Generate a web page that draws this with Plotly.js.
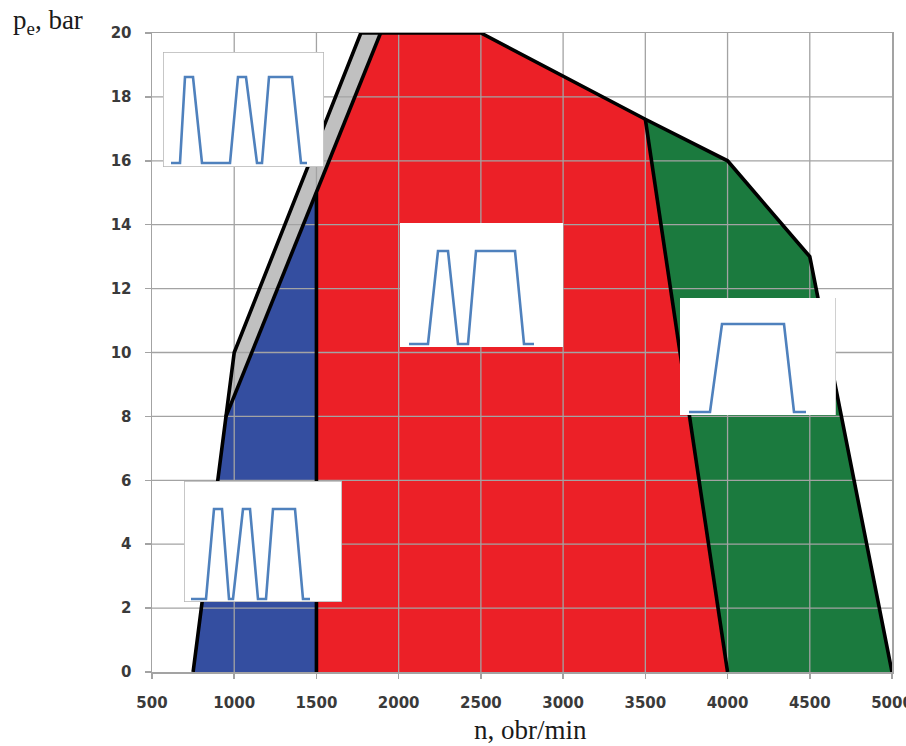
<!DOCTYPE html>
<html>
<head>
<meta charset="utf-8">
<script src="https://cdn.plot.ly/plotly-3.0.1.min.js"></script>
<style>html,body{margin:0;padding:0;background:#fff}#chart{width:906px;height:746px}</style>
</head>
<body>
<div id="chart"></div>
<script>
// ---- axis ticks ----
const xTicks = [500, 1000, 1500, 2000, 2500, 3000, 3500, 4000, 4500, 5000];
const yTicks = [0, 2, 4, 6, 8, 10, 12, 14, 16, 18, 20];

// ---- region polygons (n [obr/min], pe [bar]) ----
const blueN  = [750, 950, 1500, 1500];
const blueP  = [0, 8, 15, 0];
const grayN  = [950, 1000, 1770, 1890, 1500];
const grayP  = [8, 10, 20, 20, 15];
const redN   = [1500, 1500, 1890, 2500, 3500, 4000];
const redP   = [0, 15, 20, 20, 17.3, 0];
const greenN = [3500, 4000, 4500, 5000, 4000];
const greenP = [17.3, 16, 13, 0, 0];

// ---- boundary lines ----
const outerN = [750, 950, 1000, 1770, 2500, 3500, 4000, 4500, 5000];
const outerP = [0, 8, 10, 20, 20, 17.3, 16, 13, 0];
const innerN = [950, 1500, 1890];
const innerP = [8, 15, 20];
const split1N = [1500, 1500];
const split1P = [0, 15];
const split2N = [3500, 4000];
const split2P = [17.3, 0];

// ---- inset signal shapes (time, level 0..1) ----
const sig1T = [8, 17, 22, 30, 39, 67, 75, 83, 94, 99, 106, 129, 138, 144];
const sig1L = [0, 0, 1, 1, 0, 0, 1, 1, 0, 0, 1, 1, 0, 0];
const sig2T = [9, 28, 38, 48, 58, 68, 76, 115, 124, 134];
const sig2L = [0, 0, 1, 1, 0, 0, 1, 1, 0, 0];
const sig3T = [9, 30, 42, 104, 114, 126];
const sig3L = [0, 0, 1, 1, 0, 0];
const sig4T = [7, 22, 30, 38, 45, 49, 59, 66, 74, 82, 89, 111, 119, 126];
const sig4L = [0, 0, 1, 1, 0, 0, 1, 1, 0, 0, 1, 1, 0, 0];

// ---- layout geometry (pixels) ----
const PL = 152, PR = 892, PT = 33, PB = 672;
const PW = PR - PL, PH = PB - PT;
// inset boxes: left, top, right, bottom, baseline offset, amplitude
const insetBoxes = [
  {L:163, T:52,  R:324, B:167, off:4, amp:86, border:'all'},
  {L:400, T:223, R:563, B:347, off:3, amp:93, border:'none'},
  {L:680, T:298, R:836, B:415, off:3, amp:88, border:'right'},
  {L:184, T:481, R:342, B:602, off:3, amp:90, border:'all'}
];
const sigs = [[sig1T, sig1L], [sig2T, sig2L], [sig3T, sig3L], [sig4T, sig4L]];

const traces = [];
function fillTrace(x, y, color) {
  return {x: x, y: y, type: 'scatter', mode: 'lines', fill: 'toself',
          fillcolor: color, line: {width: 0, color: color}, hoverinfo: 'skip', showlegend: false};
}
traces.push(fillTrace(blueN, blueP, '#344ea0'));
traces.push(fillTrace(grayN, grayP, '#c0c0c0'));
traces.push(fillTrace(redN, redP, '#ec2027'));
traces.push(fillTrace(greenN, greenP, '#1b7a3e'));

// grid lines drawn over the fills
const gx = [], gy = [];
xTicks.slice(1, -1).forEach(t => { gx.push(t, t, null); gy.push(yTicks[0], yTicks[yTicks.length-1], null); });
yTicks.slice(1, -1).forEach(t => { gx.push(xTicks[0], xTicks[xTicks.length-1], null); gy.push(t, t, null); });
traces.push({x: gx, y: gy, type: 'scatter', mode: 'lines', line: {color: '#a3a3a3', width: 1.3},
             hoverinfo: 'skip', showlegend: false, connectgaps: false});

function blackLine(x, y) {
  return {x: x, y: y, type: 'scatter', mode: 'lines', cliponaxis: false,
          line: {color: '#000', width: 3.6}, hoverinfo: 'skip', showlegend: false};
}
traces.push(blackLine(outerN, outerP));
traces.push(blackLine(innerN, innerP));
traces.push(blackLine(split1N, split1P));
traces.push(blackLine(split2N, split2P));

const tickFont = {family: 'DejaVu Sans', size: 15, color: '#3a3a3a', weight: 700};
const layout = {
  width: 906, height: 746,
  margin: {l: PL, r: 906 - PR, t: PT, b: 746 - PB, pad: 0},
  paper_bgcolor: '#fff', plot_bgcolor: '#fff',
  showlegend: false,
  xaxis: {
    range: [500, 5000], tickvals: xTicks, ticktext: xTicks.map(String),
    showgrid: false, zeroline: false, showline: true, mirror: true,
    linecolor: '#a3a3a3', linewidth: 1.5,
    ticks: 'outside', ticklen: 5, tickcolor: '#a3a3a3', tickwidth: 1.5,
    ticklabelstandoff: 11, ticklabeloverflow: 'allow',
    tickfont: tickFont,
    fixedrange: true
  },
  yaxis: {
    range: [0, 20], tickvals: yTicks, ticktext: yTicks.map(String),
    showgrid: false, zeroline: false, showline: true, mirror: true,
    linecolor: '#a3a3a3', linewidth: 1.5,
    ticks: 'outside', ticklen: 6, tickcolor: '#a3a3a3', tickwidth: 1.5,
    ticklabelstandoff: 10, ticklabeloverflow: 'allow',
    tickfont: tickFont,
    fixedrange: true
  },
  annotations: [
    {text: 'p<sub>e</sub>, bar', xref: 'paper', yref: 'paper',
     x: (11 - PL) / PW, y: (PB - 22) / PH, xanchor: 'left', yanchor: 'middle', showarrow: false,
     font: {family: 'Liberation Serif', size: 27, color: '#1a1a1a'}},
    {text: 'n, obr/min', xref: 'paper', yref: 'paper',
     x: (530 - PL) / PW, y: (PB - 730) / PH, xanchor: 'center', yanchor: 'middle', showarrow: false,
     font: {family: 'Liberation Serif', size: 27, color: '#1a1a1a'}}
  ]
};

insetBoxes.forEach((b, i) => {
  const k = i + 2;
  const W = b.R - b.L, H = b.B - b.T;
  const y0 = -b.off / b.amp, y1 = (H - b.off) / b.amp;
  const xa = 'x' + k, ya = 'y' + k;
  layout['xaxis' + k] = {domain: [(b.L - PL) / PW, (b.R - PL) / PW], range: [0, W], visible: false, fixedrange: true, anchor: ya};
  layout['yaxis' + k] = {domain: [(PB - b.B) / PH, (PB - b.T) / PH], range: [y0, y1], visible: false, fixedrange: true, anchor: xa};
  traces.push({x: [0, W, W, 0, 0], y: [y0, y0, y1, y1, y0], xaxis: xa, yaxis: ya,
    type: 'scatter', mode: 'lines', fill: 'toself', fillcolor: '#ffffff',
    line: {color: b.border === 'all' ? '#b5b5b5' : 'rgba(0,0,0,0)', width: 1.5},
    cliponaxis: false, hoverinfo: 'skip', showlegend: false});
  if (b.border === 'right') {
    traces.push({x: [W, W], y: [y0, y1], xaxis: xa, yaxis: ya, type: 'scatter', mode: 'lines',
      line: {color: '#c0c0c0', width: 1.5}, cliponaxis: false, hoverinfo: 'skip', showlegend: false});
  }
  traces.push({x: sigs[i][0], y: sigs[i][1], xaxis: xa, yaxis: ya, type: 'scatter', mode: 'lines',
    line: {color: '#4f81bd', width: 2.6}, cliponaxis: false, hoverinfo: 'skip', showlegend: false});
});

Plotly.newPlot('chart', traces, layout, {displayModeBar: false, staticPlot: true});
</script>
</body>
</html>
